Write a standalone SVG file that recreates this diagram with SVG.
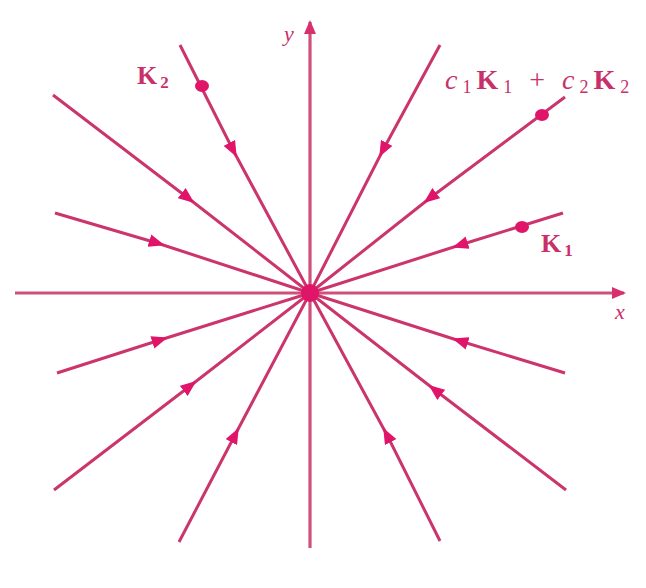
<svg xmlns="http://www.w3.org/2000/svg" width="646" height="588" viewBox="0 0 646 588">
<style>
.ray{fill:none;stroke:#cc346c;stroke-width:3;marker-mid:url(#arr)}
.axis{fill:none;stroke:#d0507c;stroke-width:3.2}
.dot{fill:#e0156a}
.lbl{font-family:"Liberation Serif",serif;fill:#c8306a}
.b{font-weight:bold}
.i{font-style:italic}
</style>
<defs>
<marker id="arr" markerUnits="userSpaceOnUse" markerWidth="16" markerHeight="13" refX="8" refY="6.5" orient="auto" viewBox="0 0 16 13">
<path d="M0,0 L16,6.5 L0,13 z" fill="#e0156a"/>
</marker>
<marker id="axarr" markerUnits="userSpaceOnUse" markerWidth="14" markerHeight="12" refX="12" refY="6" orient="auto" viewBox="0 0 14 12">
<path d="M0,0 L14,6 L0,12 z" fill="#d8306e"/>
</marker>
</defs>
<rect width="646" height="588" fill="#ffffff"/>
<g id="axes">
<path class="axis" d="M15,293 L624,293" marker-end="url(#axarr)"/>
<path class="axis" d="M310,548 L310,22" marker-end="url(#axarr)"/>
</g>
<g id="connectors">
<path class="ray" d="M180,45 L233,150 L310,293"/>
<path class="ray" d="M440,541 L387,435 L310,293"/>
<path class="ray" d="M53,95 L188,198 L310,293"/>
<path class="ray" d="M566,490 L435,390 L310,293"/>
<path class="ray" d="M55,213 L157,243 L310,293"/>
<path class="ray" d="M565,373 L460,341 L310,293"/>
<path class="ray" d="M440,45 L383,150 L310,293"/>
<path class="ray" d="M179,542 L235,435 L310,293"/>
<path class="ray" d="M565,97 L430,198 L310,293"/>
<path class="ray" d="M54,490 L190,386 L310,293"/>
<path class="ray" d="M563,213 L460,245 L310,293"/>
<path class="ray" d="M57,373 L160,340 L310,293"/>
</g>
<g id="origin"><circle class="dot" cx="310" cy="293" r="9"/></g>
<g id="k2">
<ellipse class="dot" cx="202" cy="86" rx="7" ry="6"/>
<text class="lbl b" x="137" y="84" font-size="26" letter-spacing="3">K<tspan font-size="17" dy="4">2</tspan></text>
</g>
<g id="combo">
<ellipse class="dot" cx="542" cy="115" rx="7" ry="6"/>
<text class="lbl" x="445" y="89" font-size="28" letter-spacing="5"><tspan class="i">c</tspan><tspan font-size="18" dy="4">1</tspan><tspan class="b" dy="-4">K</tspan><tspan font-size="18" dy="4">1</tspan><tspan dy="-4"> + </tspan><tspan class="i">c</tspan><tspan font-size="18" dy="4">2</tspan><tspan class="b" dy="-4">K</tspan><tspan font-size="18" dy="4">2</tspan></text>
</g>
<g id="k1">
<ellipse class="dot" cx="522" cy="227" rx="7" ry="6"/>
<text class="lbl b" x="541" y="252" font-size="26" letter-spacing="3">K<tspan font-size="17" dy="4">1</tspan></text>
</g>
<g id="axis-labels">
<text class="lbl i" x="284" y="41" font-size="22">y</text>
<text class="lbl i" x="615" y="319" font-size="22">x</text>
</g>
</svg>
